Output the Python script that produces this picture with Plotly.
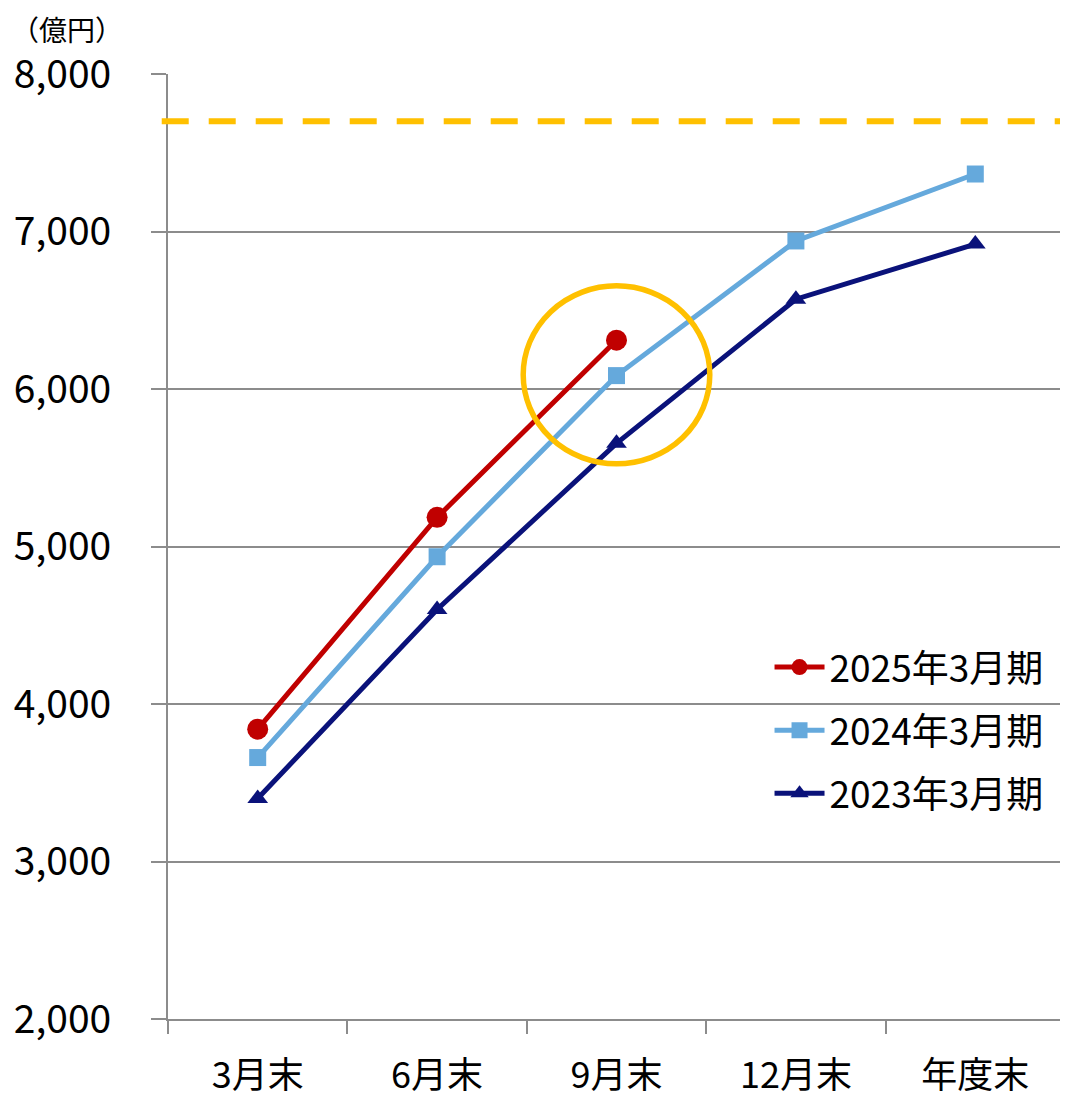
import plotly.graph_objects as go

categories = ["3月末", "6月末", "9月末", "12月末", "年度末"]
s2025 = [3840, 5185, 6310]
s2024 = [3660, 4935, 6085, 6940, 7365]
s2023 = [3400, 4600, 5655, 6570, 6920]
target = 7700
y_ticks = [2000, 3000, 4000, 5000, 6000, 7000, 8000]

FONT = "Noto Sans CJK JP"

fig = go.Figure()
fig.add_trace(go.Scatter(x=categories[:len(s2025)], y=s2025, name="2025年3月期",
                         mode="lines+markers", legendgroup="a",
                         line=dict(color="#C00000", width=5),
                         marker=dict(symbol="circle", size=21, color="#C00000")))
fig.add_trace(go.Scatter(x=categories, y=s2024, name="2024年3月期",
                         mode="lines+markers", legendgroup="b",
                         line=dict(color="#65A9DC", width=5),
                         marker=dict(symbol="square", size=17, color="#65A9DC")))
fig.add_trace(go.Scatter(x=categories, y=s2023, name="2023年3月期",
                         mode="lines+markers", legendgroup="c",
                         line=dict(color="#0A127A", width=5),
                         marker=dict(symbol="triangle-up", size=18, color="#0A127A")))

# target dashed line
fig.add_shape(type="line", xref="paper", yref="y", x0=-0.007, x1=1, y0=target, y1=target,
              line=dict(color="#FFC000", width=6, dash="27px,20px"), layer="above")
# highlight circle around 9月末
fig.add_shape(type="circle", xref="x", yref="y", x0=2 - 0.52, x1=2 + 0.52,
              y0=6090 - 565, y1=6090 + 565,
              line=dict(color="#FFC000", width=5.5), layer="above")

fig.add_annotation(text="（億円）", xref="paper", yref="paper", x=-0.176, y=1.0254,
                   xanchor="left", yanchor="bottom", showarrow=False, borderpad=0,
                   font=dict(family=FONT, size=28, color="#000000"))

fig.update_layout(
    width=1060, height=1089,
    margin=dict(l=160, r=3, t=66, b=78, pad=0),
    paper_bgcolor="white", plot_bgcolor="white",
    font=dict(family=FONT, color="#000000"),
    showlegend=True,
    legend=dict(x=0.6706, y=0.4047, xanchor="left", yanchor="top",
                bgcolor="rgba(0,0,0,0)", font=dict(family=FONT, size=37, color="#000000"),
                tracegroupgap=12, itemsizing="trace", itemwidth=50),
    xaxis=dict(type="category", categoryorder="array", categoryarray=categories,
               range=[-0.5, 4.5], tickson="boundaries", ticks="outside", ticklen=13,
               tickcolor="#8C8C8C", tickwidth=2, showgrid=False, automargin=False,
               showline=True, linecolor="#8C8C8C", linewidth=2,
               tickfont=dict(family=FONT, size=36, color="#000000"), ticklabelstandoff=24),
    yaxis=dict(range=[2000, 8000], tickvals=y_ticks, tickformat=",d", automargin=False,
               ticks="outside", ticklen=15, tickcolor="#8C8C8C", tickwidth=2,
               showgrid=True, gridcolor="#8C8C8C", gridwidth=2,
               showline=True, linecolor="#8C8C8C", linewidth=2, zeroline=False,
               tickfont=dict(family=FONT, size=39, color="#000000"), ticklabelstandoff=32),
)

fig.write_html("out.html")
